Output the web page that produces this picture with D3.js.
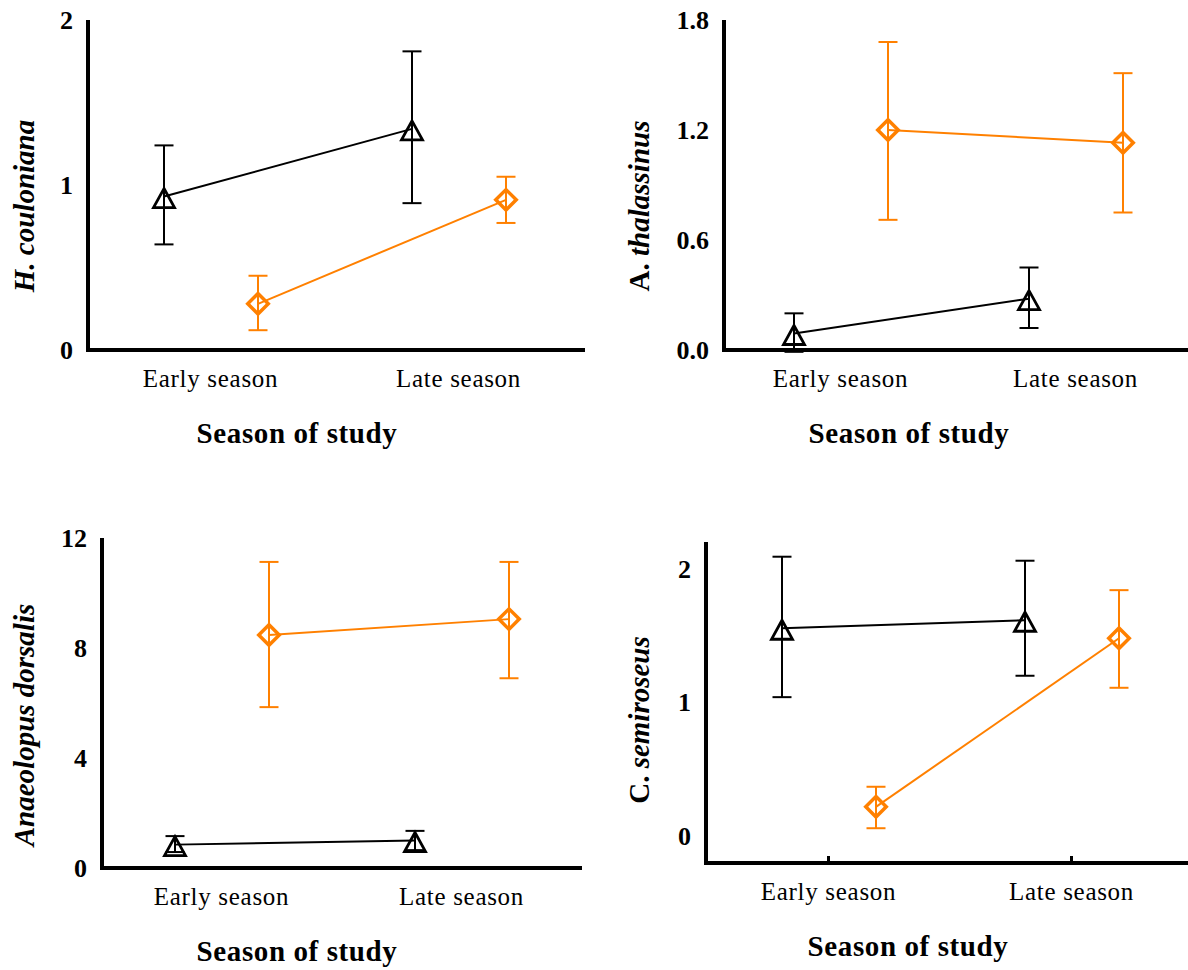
<!DOCTYPE html>
<html>
<head>
<meta charset="utf-8">
<script src="https://cdn.jsdelivr.net/npm/d3@7"></script>
<style>
  body { margin: 0; background: #fff; }
</style>
</head>
<body>
<script>
"use strict";

// categories
var seasons = ["Early season", "Late season"];

// H. couloniana
var hcBlack = [0.93, 1.34], hcBlackLo = [0.64, 0.89], hcBlackHi = [1.24, 1.81];
var hcOrange = [0.28, 0.91], hcOrangeLo = [0.12, 0.77], hcOrangeHi = [0.45, 1.05];
var hcTicks = [0, 1, 2];

// A. thalassinus
var atBlack = [0.09, 0.28], atBlackLo = [-0.01, 0.12], atBlackHi = [0.2, 0.45];
var atOrange = [1.2, 1.13], atOrangeLo = [0.71, 0.75], atOrangeHi = [1.68, 1.51];
var atTicks = [0, 0.6, 1.2, 1.8];

// Anaeolopus dorsalis
var adBlack = [0.85, 1.0], adBlackLo = [0.58, 0.65], adBlackHi = [1.16, 1.35];
var adOrange = [8.47, 9.05], adOrangeLo = [5.85, 6.9], adOrangeHi = [11.13, 11.13];
var adTicks = [0, 4, 8, 12];

// C. semiroseus
var csBlack = [1.555, 1.615], csBlackLo = [1.04, 1.2], csBlackHi = [2.09, 2.06];
var csOrange = [0.22, 1.48], csOrangeLo = [0.06, 1.11], csOrangeHi = [0.37, 1.84];
var csTicks = [0, 1, 2];

var SERIF = "'Liberation Serif', 'Times New Roman', serif";
var ORANGE = "#ff8000";

var svg = d3.select("body").append("svg")
    .attr("width", 1188)
    .attr("height", 970);

var panels = [
    { left: 88, top: 20, bottom: 350, right: 585, centers: [210, 458], titleX: 297,
      yDomain: [0, 2], ticks: hcTicks, fmt: "d",
      label: [{ t: "H. couloniana", italic: true }], labelX: 34, labelY: 206,
      black: [hcBlack, hcBlackLo, hcBlackHi], orange: [hcOrange, hcOrangeLo, hcOrangeHi] },
    { left: 724, top: 20, bottom: 350, right: 1188, centers: [840, 1075], titleX: 909,
      yDomain: [0, 1.8], ticks: atTicks, fmt: ".1f",
      label: [{ t: "A. ", italic: false }, { t: "thalassinus", italic: true }], labelX: 649, labelY: 206,
      black: [atBlack, atBlackLo, atBlackHi], orange: [atOrange, atOrangeLo, atOrangeHi] },
    { left: 102, top: 538, bottom: 868, right: 582, centers: [221, 461], titleX: 297,
      yDomain: [0, 12], ticks: adTicks, fmt: "d",
      label: [{ t: "Anaeolopus dorsalis", italic: true }], labelX: 34, labelY: 725,
      black: [adBlack, adBlackLo, adBlackHi], orange: [adOrange, adOrangeLo, adOrangeHi] },
    { left: 706, top: 542, bottom: 863, right: 1188, centers: [828, 1071], titleX: 908,
      yDomain: [-0.2, 2.2], ticks: csTicks, fmt: "d", xTicks: true,
      label: [{ t: "C. ", italic: false }, { t: "semiroseus", italic: true }], labelX: 649, labelY: 720,
      black: [csBlack, csBlackLo, csBlackHi], orange: [csOrange, csOrangeLo, csOrangeHi] }
];

// open triangle, apex a bit closer to the data point than the base
var trianglePath = "M0,-8L10.5,11L-10.5,11Z";

function drawPanel(p) {
    var y = d3.scaleLinear().domain(p.yDomain).range([p.bottom, p.top]);
    var x = d3.scalePoint().domain(seasons).range(p.centers);
    var g = svg.append("g");

    // Axis lines
    g.append("line")
        .attr("x1", p.left).attr("x2", p.left)
        .attr("y1", p.top).attr("y2", p.bottom + 2)
        .attr("stroke", "#000").attr("stroke-width", 4);
    g.append("line")
        .attr("x1", p.left - 2).attr("x2", p.right)
        .attr("y1", p.bottom).attr("y2", p.bottom)
        .attr("stroke", "#000").attr("stroke-width", 4);

    // Y tick labels
    var yAxis = d3.axisLeft(y)
        .tickValues(p.ticks)
        .tickFormat(d3.format(p.fmt))
        .tickSize(0)
        .tickPadding(15);
    var ya = g.append("g")
        .attr("transform", "translate(" + p.left + ",0)")
        .call(yAxis);
    ya.select(".domain").remove();
    ya.selectAll("text")
        .attr("font-family", SERIF)
        .attr("font-size", 26)
        .attr("font-weight", "bold")
        .attr("fill", "#000");

    // X category labels
    var xAxis = d3.axisBottom(x)
        .tickSize(p.xTicks ? -7 : 0)
        .tickPadding(19);
    var xa = g.append("g")
        .attr("transform", "translate(0," + p.bottom + ")")
        .call(xAxis);
    xa.select(".domain").remove();
    xa.selectAll("line").attr("stroke", "#000").attr("stroke-width", 3);
    xa.selectAll("text")
        .attr("font-family", SERIF)
        .attr("font-size", 25)
        .attr("letter-spacing", "0.7px")
        .attr("fill", "#000");

    // X title
    g.append("text")
        .attr("x", p.titleX)
        .attr("y", p.bottom + 93)
        .attr("text-anchor", "middle")
        .attr("font-family", SERIF)
        .attr("font-size", 29)
        .attr("font-weight", "bold")
        .attr("letter-spacing", "0.6px")
        .text("Season of study");

    // Y title
    var yt = g.append("text")
        .attr("transform", "translate(" + p.labelX + "," + p.labelY + ") rotate(-90)")
        .attr("text-anchor", "middle")
        .attr("font-family", SERIF)
        .attr("font-size", 29)
        .attr("font-weight", "bold");
    p.label.forEach(function(part) {
        yt.append("tspan")
            .attr("font-style", part.italic ? "italic" : "normal")
            .text(part.t);
    });

    var series = [
        { vals: p.black[0], lo: p.black[1], hi: p.black[2], color: "#000", dx: -46, marker: "tri" },
        { vals: p.orange[0], lo: p.orange[1], hi: p.orange[2], color: ORANGE, dx: 48, marker: "dia" }
    ];

    series.forEach(function(s) {
        var px = function(d, i) { return x(seasons[i]) + s.dx; };

        // Connecting line
        g.append("path")
            .datum(s.vals)
            .attr("fill", "none")
            .attr("stroke", s.color)
            .attr("stroke-width", 2)
            .attr("d", d3.line().x(px).y(function(d) { return y(d); }));

        // Error bars
        var eb = g.selectAll(null)
            .data(s.vals)
            .enter().append("g")
            .attr("stroke", s.color)
            .attr("stroke-width", 2);
        eb.append("line")
            .attr("x1", px).attr("x2", px)
            .attr("y1", function(d, i) { return y(s.lo[i]); })
            .attr("y2", function(d, i) { return y(s.hi[i]); });
        [s.lo, s.hi].forEach(function(arr) {
            eb.append("line")
                .attr("x1", function(d, i) { return px(d, i) - 9.5; })
                .attr("x2", function(d, i) { return px(d, i) + 9.5; })
                .attr("y1", function(d, i) { return y(arr[i]); })
                .attr("y2", function(d, i) { return y(arr[i]); });
        });

        // Markers
        var shape = s.marker === "tri"
            ? trianglePath
            : d3.symbol().type(d3.symbolSquare).size(210)();
        g.selectAll(null)
            .data(s.vals)
            .enter().append("path")
            .attr("d", shape)
            .attr("transform", function(d, i) {
                return "translate(" + px(d, i) + "," + y(d) + ")" + (s.marker === "dia" ? " rotate(45)" : "");
            })
            .attr("fill", "none")
            .attr("stroke", s.color)
            .attr("stroke-width", s.marker === "tri" ? 2.8 : 3.5);
    });
}

panels.forEach(drawPanel);
</script>
</body>
</html>
